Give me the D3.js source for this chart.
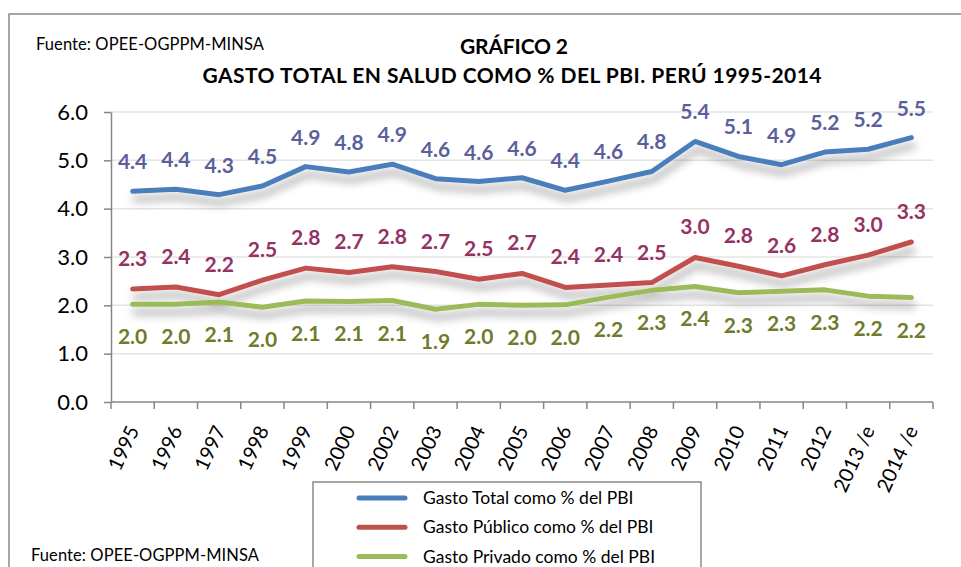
<!DOCTYPE html>
<html>
<head>
<meta charset="utf-8">
<script src="https://cdn.jsdelivr.net/npm/d3@7"></script>
<style>
  body { margin: 0; background: #fff; }
  svg { display: block; font-family: Lato, "Open Sans", sans-serif; }
</style>
</head>
<body>
<svg id="chart"></svg>
<script>
const width  = 961
const height = 567

const years = ["1995","1996","1997","1998","1999","2000","2002","2003","2004","2005",
               "2006","2007","2008","2009","2010","2011","2012","2013 /e","2014 /e"]
const gastoTotal   = [4.36,4.40,4.29,4.47,4.87,4.76,4.92,4.62,4.56,4.64,4.38,4.57,4.77,5.39,5.08,4.91,5.17,5.23,5.47]
const gastoPublico = [2.34,2.38,2.22,2.52,2.77,2.68,2.80,2.70,2.54,2.66,2.37,2.42,2.47,2.99,2.81,2.61,2.84,3.04,3.31]
const gastoPrivado = [2.02,2.02,2.07,1.96,2.09,2.08,2.10,1.92,2.02,2.00,2.01,2.17,2.31,2.39,2.26,2.29,2.32,2.19,2.16]
const yTicks = [0,1,2,3,4,5,6]
const seriesNames = ["Gasto Total como % del PBI", "Gasto Público como % del PBI", "Gasto Privado como % del PBI"]

const series = [
    { name: seriesNames[0], values: gastoTotal,   line: "#4a7ebb", label: "#5b5f9c", dy: -22 },
    { name: seriesNames[1], values: gastoPublico, line: "#c0504d", label: "#943263", dy: -23 },
    { name: seriesNames[2], values: gastoPrivado, line: "#9bbb59", label: "#6f7b2b", dy: 40 }
]

let svg = d3.select("#chart")
            .attr("width", width)
            .attr("height", height)

// soft shadow under the lines
const shadow = svg.append("defs").append("filter")
    .attr("id", "shadow")
    .attr("x", "-5%").attr("y", "-50%")
    .attr("width", "110%").attr("height", "200%")
shadow.append("feDropShadow")
    .attr("dx", 2).attr("dy", 8)
    .attr("stdDeviation", 4)
    .attr("flood-color", "#000")
    .attr("flood-opacity", 0.35)

// outer frame
svg.append("rect")
    .attr("x", 9).attr("y", 14)
    .attr("width", 970).attr("height", 600)
    .attr("fill", "none")
    .attr("stroke", "#8a8a8a")
    .attr("stroke-width", 1.5)

svg.append("text")
    .attr("x", 36).attr("y", 50)
    .attr("font-size", 16.5)
    .attr("textLength", 228)
    .text("Fuente: OPEE-OGPPM-MINSA")

svg.append("text")
    .attr("x", 31).attr("y", 561)
    .attr("font-size", 16.5)
    .attr("textLength", 228)
    .text("Fuente: OPEE-OGPPM-MINSA")

// titles
svg.append("text")
    .attr("x", 514).attr("y", 54)
    .attr("text-anchor", "middle")
    .attr("font-size", 21).attr("font-weight", "bold")
    .attr("textLength", 108)
    .text("GRÁFICO 2")
svg.append("text")
    .attr("x", 512).attr("y", 83)
    .attr("text-anchor", "middle")
    .attr("font-size", 21).attr("font-weight", "bold")
    .attr("textLength", 619)
    .text("GASTO TOTAL EN SALUD COMO % DEL PBI. PERÚ 1995-2014")

// scales
const x = d3.scaleBand().domain(years).range([111, 933])
const y = d3.scaleLinear().domain([0, 6]).range([402, 112])
const cx = d => x(d) + x.bandwidth() / 2

// gridlines
svg.append("g")
    .selectAll("line")
    .data(yTicks.slice(1))
    .enter().append("line")
    .attr("x1", 111).attr("x2", 933)
    .attr("y1", d => y(d)).attr("y2", d => y(d))
    .attr("stroke", "#e4e4e4")
    .attr("stroke-width", 1.5)

// y axis
const yAxis = svg.append("g")
    .attr("transform", "translate(111,0)")
    .call(d3.axisLeft(y).tickValues(yTicks).tickFormat(d3.format(".1f")).tickSize(7).tickSizeOuter(0).tickPadding(16))
yAxis.selectAll("path, line").attr("stroke", "#868686").attr("stroke-width", 1.5)
yAxis.selectAll("text").attr("font-size", 22).attr("fill", "#000").attr("font-family", "Lato")

// x axis: line, boundary ticks, rotated labels
const xAxis = svg.append("g")
xAxis.append("line")
    .attr("x1", 111).attr("x2", 933)
    .attr("y1", y(0)).attr("y2", y(0))
    .attr("stroke", "#868686").attr("stroke-width", 1.5)
xAxis.selectAll(".tick")
    .data(years.concat(["end"]))
    .enter().append("line")
    .attr("x1", (d, i) => 111 + i * x.step())
    .attr("x2", (d, i) => 111 + i * x.step())
    .attr("y1", y(0)).attr("y2", y(0) + 7)
    .attr("stroke", "#868686").attr("stroke-width", 1.5)
xAxis.selectAll("text")
    .data(years)
    .enter().append("text")
    .attr("transform", d => `translate(${cx(d) + 7},430) rotate(-65)`)
    .attr("text-anchor", "end")
    .attr("font-size", 20)
    .text(d => d)

// lines
const line = d3.line()
    .x((d, i) => cx(years[i]))
    .y(d => y(d))

svg.append("g")
    .attr("filter", "url(#shadow)")
    .selectAll("path")
    .data(series)
    .enter().append("path")
    .attr("d", d => line(d.values))
    .attr("fill", "none")
    .attr("stroke", d => d.line)
    .attr("stroke-width", 5)
    .attr("stroke-linejoin", "round")
    .attr("stroke-linecap", "round")

// data labels
series.forEach(s => {
    svg.append("g")
        .selectAll("text")
        .data(s.values)
        .enter().append("text")
        .attr("x", (d, i) => cx(years[i]))
        .attr("y", d => y(d) + s.dy)
        .attr("text-anchor", "middle")
        .attr("font-size", 21)
        .attr("font-weight", "bold")
        .attr("fill", s.label)
        .text(d => d.toFixed(1))
})

// legend
const legend = svg.append("g")
legend.append("rect")
    .attr("x", 313).attr("y", 482)
    .attr("width", 388).attr("height", 120)
    .attr("fill", "#fff")
    .attr("stroke", "#8a8a8a").attr("stroke-width", 1.5)
const items = legend.selectAll("g")
    .data(series)
    .enter().append("g")
    .attr("transform", (d, i) => `translate(0,${498 + i * 29.3})`)
items.append("line")
    .attr("x1", 359).attr("x2", 405)
    .attr("stroke", d => d.line)
    .attr("stroke-width", 5)
    .attr("stroke-linecap", "round")
items.append("text")
    .attr("x", 423).attr("y", 6)
    .attr("font-size", 17.5)
    .text(d => d.name)
</script>
</body>
</html>
